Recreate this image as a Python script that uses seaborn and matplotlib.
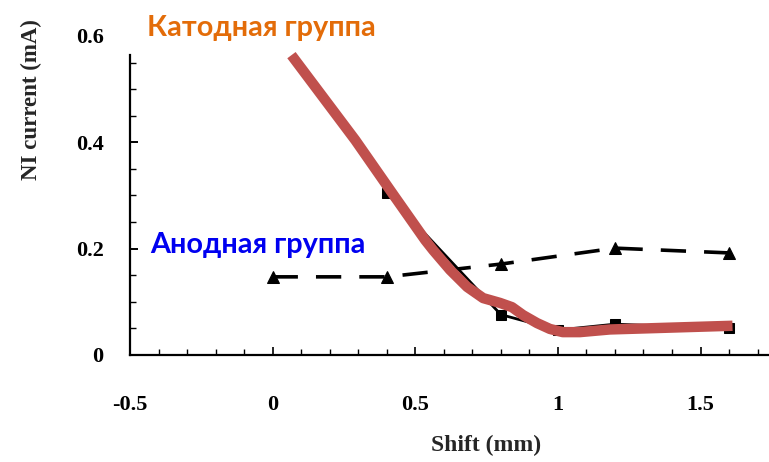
import matplotlib
matplotlib.use("Agg")
import matplotlib.pyplot as plt
import seaborn as sns
import pandas as pd
from matplotlib.ticker import MultipleLocator

# ---- data ----
shift_points = [0.0, 0.4, 0.8, 1.2, 1.6]
anode_current = [0.147, 0.147, 0.171, 0.201, 0.192]

cathode_shift = [0.4, 0.8, 1.0, 1.2, 1.6]
cathode_current = [0.305, 0.076, 0.047, 0.058, 0.050]

# smooth highlighted cathode curve (overlay), read point by point
overlay_shift = [0.066, 0.29, 0.425, 0.535, 0.563, 0.622, 0.682, 0.738, 0.797,
                 0.839, 0.878, 0.927, 0.972, 1.017, 1.077, 1.182, 1.427, 1.612]
overlay_current = [0.564, 0.404, 0.300, 0.216, 0.197, 0.160, 0.128, 0.107, 0.098,
                   0.090, 0.075, 0.060, 0.049, 0.043, 0.043, 0.048, 0.052, 0.055]

x_ticks = [-0.5, 0, 0.5, 1, 1.5]
x_tick_labels = ["-0.5", "0", "0.5", "1", "1.5"]
y_ticks = [0, 0.2, 0.4, 0.6]
y_tick_labels = ["0", "0.2", "0.4", "0.6"]

cathode_title = "Катодная группа"
anode_title = "Анодная группа"
x_label = "Shift (mm)"
y_label = "NI current (mA)"

# ---- figure ----
sns.set_theme(style="ticks")
plt.rcParams['font.family'] = ['DejaVu Sans']
W, H = 769, 462
fig = plt.figure(figsize=(W / 100, H / 100), dpi=100)
left = 130 / W
bottom = 1 - 355 / H
top = 1 - 36 / H
ax = fig.add_axes([left, bottom, 1 - left, top - bottom])

anode_df = pd.DataFrame({"shift": shift_points, "current": anode_current})
cath_df = pd.DataFrame({"shift": cathode_shift, "current": cathode_current})
over_df = pd.DataFrame({"shift": overlay_shift, "current": overlay_current})

sns.lineplot(data=anode_df, x="shift", y="current", ax=ax, color="black",
             linewidth=2.6, marker="^", markersize=8,
             markeredgecolor="black", sort=False)
ax.lines[-1].set_dashes((7, 5))
sns.lineplot(data=cath_df, x="shift", y="current", ax=ax, color="black",
             linewidth=2.0, marker="s", markersize=7, markeredgecolor="black",
             sort=False)
sns.lineplot(data=over_df, x="shift", y="current", ax=ax, color="#C0504D",
             linewidth=7.5, sort=False, solid_capstyle="butt",
             solid_joinstyle="round")

ax.set_xlim(-0.5, 1.74)
ax.set_ylim(0, 0.6)
ax.spines['top'].set_visible(False)
ax.spines['right'].set_visible(False)
ax.spines['left'].set_bounds(0, 0.565)
for s in ('left', 'bottom'):
    ax.spines[s].set_linewidth(1.6)
    ax.spines[s].set_color("black")

serif = ['Liberation Serif', 'DejaVu Serif']
ax.set_xticks(x_ticks)
ax.set_xticklabels(x_tick_labels, fontfamily=serif, fontweight='bold', fontsize=16)
ax.set_yticks(y_ticks)
ax.set_yticklabels(y_tick_labels, fontfamily=serif, fontweight='bold', fontsize=16)
ax.yaxis.get_major_ticks()[-1].tick1line.set_visible(False)
ax.xaxis.set_minor_locator(MultipleLocator(0.1))
ax.yaxis.set_minor_locator(MultipleLocator(0.05))
ax.tick_params(axis='x', which='major', direction='in', length=6, width=1.2, pad=29, colors='black')
ax.tick_params(axis='x', which='minor', direction='in', length=4, width=1.0, colors='black')
ax.tick_params(axis='y', which='major', direction='in', length=6, width=1.4, pad=19, colors='black')
ax.tick_params(axis='y', which='minor', direction='in', length=4, width=1.0, colors='black')
for lab in ax.get_yticklabels():
    lab.set_verticalalignment('center_baseline')
ax.set_xlabel("")
ax.set_ylabel("")
ax.set_facecolor("white")

fig.text(486 / W, 1 - 445 / H, x_label, ha='center', va='center',
         fontfamily=serif, fontweight='bold', fontsize=17)
fig.text(31 / W, 1 - 180 / H, y_label, ha='center', va='bottom', rotation=90,
         fontfamily=serif, fontweight='bold', fontsize=16.5)

fig.text(147 / W, 1 - 28 / H, cathode_title, ha='left', va='center',
         color="#E36C09", fontfamily=['Lato', 'DejaVu Sans'],
         fontweight='bold', fontsize=20.8)
fig.text(150 / W, 1 - 245 / H, anode_title, ha='left', va='center',
         color="#0000F0", fontfamily=['Lato', 'DejaVu Sans'],
         fontweight='bold', fontsize=20.8)

fig.savefig("out.png", dpi=100, facecolor="white")
